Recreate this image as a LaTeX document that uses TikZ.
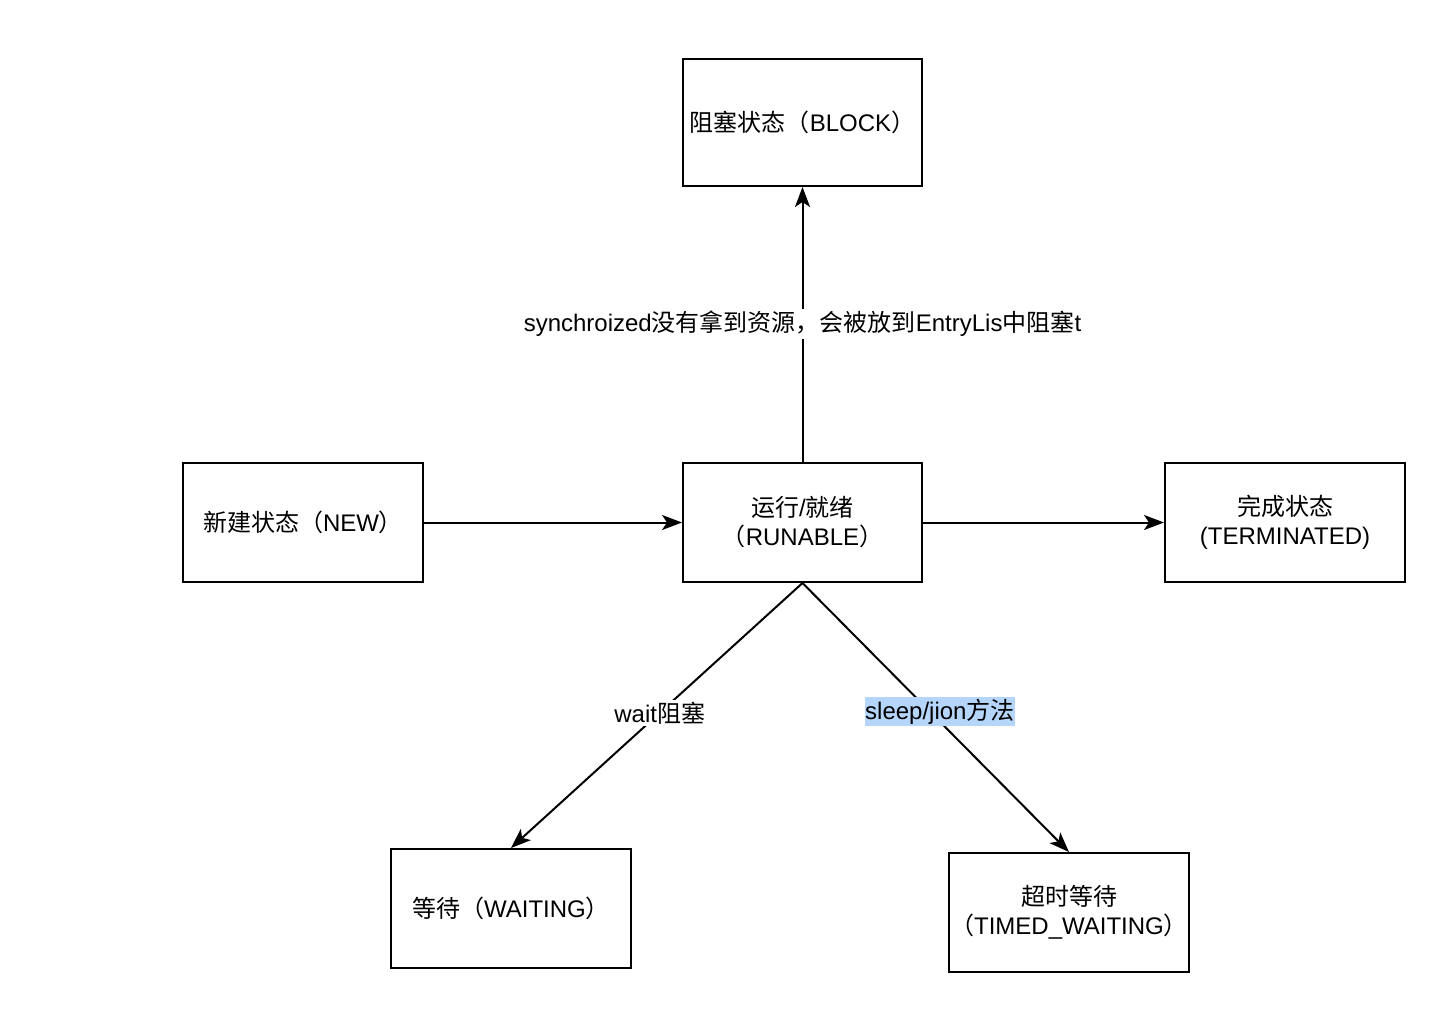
\documentclass[tikz,border=0pt]{standalone}
\usepackage{fontspec}
\setmainfont{Liberation Sans}
\newfontfamily\cjk{Noto Sans CJK SC}
\newcommand\zh[1]{{\cjk #1}}
\usetikzlibrary{arrows.meta}
\definecolor{hilite}{RGB}{181,213,251}
\begin{document}
\begin{tikzpicture}[x=1pt,y=-1pt,
  state/.style={draw, line width=2pt, minimum width=240pt, minimum height=119pt,
    inner sep=0pt, align=center, font=\fontsize{24}{29}\selectfont},
  conn/.style={line width=2pt, -{Stealth[length=20pt,width=15pt,inset=5pt]}},
  lbl/.style={fill=white, inner xsep=1pt, inner ysep=2pt, font=\fontsize{24}{29}\selectfont},
  hlbl/.style={fill=hilite, inner xsep=0pt, inner ysep=2pt, font=\fontsize{24}{29}\selectfont}]
\useasboundingbox (0,0) rectangle (1430,1036);

% states
\node[state, minimum width=239pt, minimum height=127pt] (block) at (802.5,122.5)
  {\zh{阻塞状态（}BLOCK\zh{）}};
\node[state] (new)  at (303,522.5)   {\zh{新建状态（}NEW\zh{）}};
\node[state, minimum width=239pt] (run)  at (802.5,522.5)
  {\zh{运行}/\zh{就绪}\\\zh{（}RUNABLE\zh{）}};
\node[state] (term) at (1285,522.5)  {\zh{完成状态}\\(TERMINATED)};
\node[state] (wait) at (511,908.5)   {\zh{等待（}WAITING\zh{）}};
\node[state] (timed) at (1069,912.5) {\zh{超时等待}\\\zh{（}TIMED\_WAITING\zh{）}};

% transitions
\draw[conn] (run.north) -- node[lbl, pos=0.502]
  {synchroized\zh{没有拿到资源，会被放到}EntryLis\zh{中阻塞}t} (block.south);
\draw[conn] (new.east) -- (run.west);
\draw[conn] (run.east) -- (term.west);
\draw[conn] (run.south) -- node[lbl, pos=0.49] {wait\zh{阻塞}} (wait.north);
\draw[conn] (run.south) -- node[hlbl, pos=0.478, xshift=10pt] {sleep/jion\zh{方法}} (timed.north);
\end{tikzpicture}
\end{document}
